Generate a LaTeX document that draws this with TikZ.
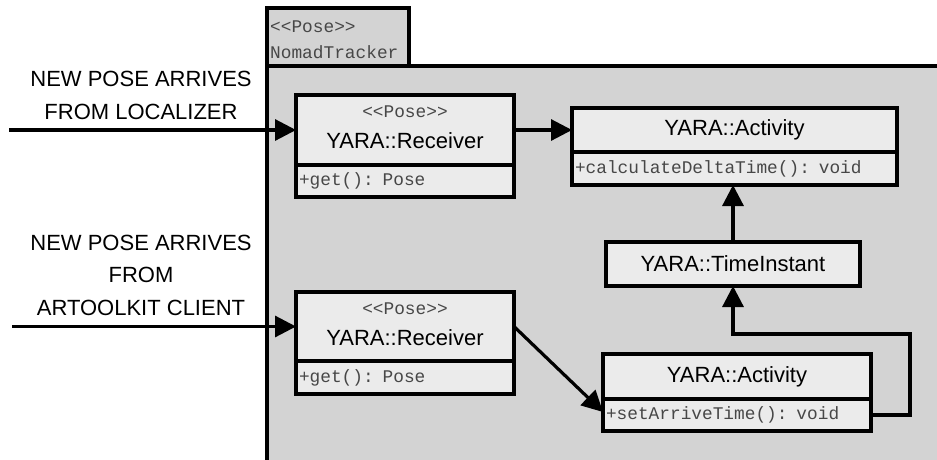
\documentclass[tikz,border=0pt]{standalone}
\usepackage{fontspec}
\usetikzlibrary{arrows.meta}
\newfontfamily\sansf{Liberation Sans}
\newfontfamily\monof{Liberation Mono}
\definecolor{pkggray}{RGB}{211,211,211}
\definecolor{boxgray}{RGB}{235,235,235}
\tikzset{
  pkg/.style={draw, fill=pkggray, line width=3.2pt},
  umlbox/.style={draw, fill=boxgray, line width=3.2pt, inner sep=0pt, outer sep=0pt,
    anchor=north west, font=\sansf\fontsize{22}{26}\selectfont},
  methodbox/.style={umlbox, font=\monof\fontsize{17.8}{20}\selectfont, text=black!72,
    align=left, inner xsep=3pt, inner ysep=0pt},
  stereo/.style={font=\monof\fontsize{17.8}{20}\selectfont, text=black!72, inner sep=0pt},
  clsname/.style={font=\sansf\fontsize{22}{26}\selectfont, inner sep=0pt},
  inlabel/.style={font=\sansf\fontsize{22}{32.5}\selectfont, align=center, inner sep=0pt},
  arr/.style={line width=3.2pt, line join=miter, -{Triangle[length=21pt,width=21pt]}}
}
\begin{document}
\begin{tikzpicture}[x=1pt,y=-1pt]
\useasboundingbox (0,0) rectangle (937,459);
\clip (0,0) rectangle (937,459);

% package frame with its name tab
\draw[pkg] (267,66) rectangle (980,490);
\draw[pkg] (267,8) rectangle (409,66);
\node[stereo, anchor=west] (tabstereo) at (270,27) {<{}<Pose>{}>};
\node[stereo, anchor=west] (tabname) at (270,52) {NomadTracker};

% first receiver
\node[umlbox, minimum width=218pt, minimum height=70pt] (r1t) at (296,95) {};
\node[methodbox, text width=212pt, minimum height=32pt] (r1m) at (296,165) {+get(): Pose};
\node[stereo] (r1s) at ([yshift=-16.5pt]r1t.north) {<{}<Pose>{}>};
\node[clsname] (r1n) at ([yshift=-46pt]r1t.north) {YARA::Receiver};

% second receiver
\node[umlbox, minimum width=218pt, minimum height=69pt] (r2t) at (296,292) {};
\node[methodbox, text width=212pt, minimum height=33pt] (r2m) at (296,361) {+get(): Pose};
\node[stereo] (r2s) at ([yshift=-16.5pt]r2t.north) {<{}<Pose>{}>};
\node[clsname] (r2n) at ([yshift=-45.5pt]r2t.north) {YARA::Receiver};

% activity computing the delta time
\node[umlbox, minimum width=325pt, minimum height=44pt] (a1t) at (572,108) {YARA::Activity};
\node[methodbox, text width=319pt, minimum height=33pt] (a1m) at (572,152) {+calculateDeltaTime(): void};

% time instant
\node[umlbox, minimum width=254pt, minimum height=44pt] (ti) at (606,242) {YARA::TimeInstant};

% activity storing the arrival time
\node[umlbox, minimum width=268pt, minimum height=45pt] (a2t) at (603,354) {YARA::Activity};
\node[methodbox, text width=262pt, minimum height=32pt] (a2m) at (603,399) {+setArriveTime(): void};

% incoming events
\node[inlabel] (lab1) at (141,95.5) {NEW POSE ARRIVES\\FROM LOCALIZER};
\node[inlabel] (lab2) at (141,275) {NEW POSE ARRIVES\\FROM\\ARTOOLKIT CLIENT};
\coordinate (in1) at (9,130);
\coordinate (in2) at (12,326.5);
\coordinate (loop) at (910,334);

% connectors
\draw[arr] (in1) -- (r1t.west);
\draw[arr] (in2) -- (r2t.west);
\draw[arr] (r1t.east) -- (a1t.west);
\draw[arr] (ti.north) -- (ti.north |- a1m.south);
\draw[arr] (r2t.east) -- ([yshift=3pt]a2m.west);
\draw[arr] (a2m.east) -| (loop) -| (ti.south);
\end{tikzpicture}
\end{document}
